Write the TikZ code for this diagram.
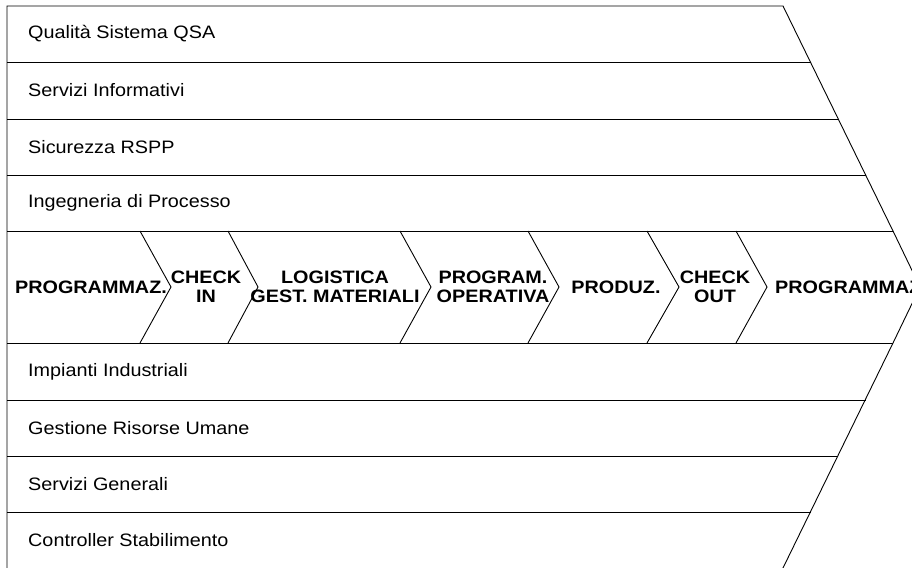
\documentclass[tikz,border=0pt]{standalone}
\usepackage{fontspec}
\setmainfont{Liberation Sans}[FakeStretch=1.1]

\tikzset{
  band/.style={font=\fontsize{18}{19}\selectfont, anchor=west, inner sep=0pt},
  stage/.style={font=\fontsize{18}{19}\selectfont\bfseries, align=center, inner sep=0pt},
  edge/.style={line width=0.9pt, line join=miter}
}

\begin{document}
\begin{tikzpicture}[x=1pt, y=-1pt]
\useasboundingbox (0,0) rectangle (912,567);
\clip (0,0) rectangle (912,567);
% outline
\coordinate (tl) at (7,6);
\coordinate (bl) at (7,570);
\coordinate (r0) at (783,6);
\coordinate (r1) at (810.5,62);
\coordinate (r2) at (838,119);
\coordinate (r3) at (865.5,175);
\coordinate (r4) at (893,231);
\coordinate (tip) at (920,287);
\coordinate (r5) at (893,343);
\coordinate (r6) at (865.5,400);
\coordinate (r7) at (838,456);
\coordinate (r8) at (810.5,512);
\coordinate (r9) at (782,570);
\coordinate (l1) at (7,62);
\coordinate (l2) at (7,119);
\coordinate (l3) at (7,175);
\coordinate (l4) at (7,231);
\coordinate (l5) at (7,343);
\coordinate (l6) at (7,400);
\coordinate (l7) at (7,456);
\coordinate (l8) at (7,512);
\draw[edge] (tl) -- (r0) -- (r4) -- (tip) -- (r5) -- (r9) -- (bl) -- cycle;
\draw[edge] (l1) -- (r1);
\draw[edge] (l2) -- (r2);
\draw[edge] (l3) -- (r3);
\draw[edge] (l4) -- (r4);
\draw[edge] (l5) -- (r5);
\draw[edge] (l6) -- (r6);
\draw[edge] (l7) -- (r7);
\draw[edge] (l8) -- (r8);
% chevrons
\draw[edge] (140,231) -- (171,287) -- (140,343);
\draw[edge] (228,231) -- (258,287) -- (228,343);
\draw[edge] (400,231) -- (431,287) -- (400,343);
\draw[edge] (528,231) -- (559,287) -- (528,343);
\draw[edge] (647,231) -- (679,287) -- (647,343);
\draw[edge] (736,231) -- (767,287) -- (736,343);
% support functions
\node[band] (qsa) at (28,34) {Qualità Sistema QSA};
\node[band] (info) at (28,90.5) {Servizi Informativi};
\node[band] (rspp) at (28,147) {Sicurezza RSPP};
\node[band] (ingproc) at (28,203) {Ingegneria di Processo};
\node[band] (impianti) at (28,371.5) {Impianti Industriali};
\node[band] (risorse) at (28,428) {Gestione Risorse Umane};
\node[band] (generali) at (28,484) {Servizi Generali};
\node[band] (controller) at (28,540) {Controller Stabilimento};
% primary flow
\node[stage] (prog1) at (91,287) {PROGRAMMAZ.};
\node[stage] (checkin) at (206,287) {CHECK\\IN};
\node[stage] (logistica) at (335,287) {LOGISTICA\\GEST. MATERIALI};
\node[stage] (progop) at (493,287) {PROGRAM.\\OPERATIVA};
\node[stage] (produz) at (616,287) {PRODUZ.};
\node[stage] (checkout) at (715,287) {CHECK\\OUT};
\node[stage, anchor=west] (prog2) at (775,287) {PROGRAMMAZ.};
\end{tikzpicture}
\end{document}
